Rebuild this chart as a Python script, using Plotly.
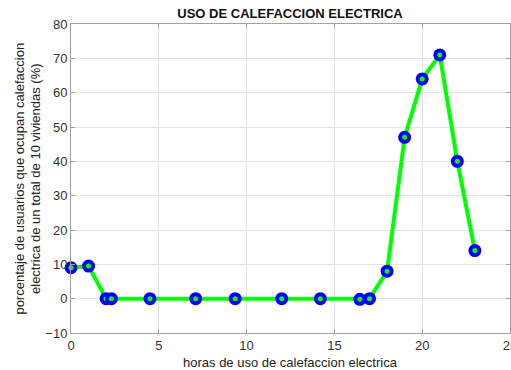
import plotly.graph_objects as go

horas = [0, 1, 2, 2.3, 4.5, 7.1, 9.35, 12, 14.2, 16.45, 17, 18, 19, 20, 21, 22, 23]
porcentaje = [9, 9.5, 0, 0, 0, 0, 0, 0, 0, -0.2, 0, 8, 47, 64, 71, 40, 14]

x_ticks = [0, 5, 10, 15, 20, 25]
y_ticks = [-10, 0, 10, 20, 30, 40, 50, 60, 70, 80]

titulo = "USO DE CALEFACCION ELECTRICA"
x_titulo = "horas de uso de calefaccion electrica"
y_titulo = "porcentaje de usuarios que ocupan calefaccion<br>electrica de un total de 10 viviendas (%)"

fig = go.Figure()
fig.add_trace(go.Scatter(
    x=horas, y=porcentaje, mode="lines+markers",
    line=dict(color="#00ff00", width=4),
    marker=dict(symbol="circle", size=9, color="#00ff00",
                line=dict(color="#0000ff", width=4)),
    showlegend=False, cliponaxis=False,
))

axis_common = dict(
    showgrid=True, gridcolor="#e3e3e3", gridwidth=1, automargin=False,
    zeroline=False, showline=True, linecolor="#a0a0a0", linewidth=1,
    mirror="ticks", ticks="inside", ticklen=4, tickcolor="#a0a0a0",
    ticklabeloverflow="allow",
    tickfont=dict(family="Liberation Sans, Arial", size=13, color="#333333"),
)

fig.update_layout(
    width=511, height=370,
    margin=dict(l=71, r=1, t=24, b=37),
    paper_bgcolor="white", plot_bgcolor="white",
    font=dict(family="Liberation Sans, Arial", size=13, color="#222222"),
    title=dict(text="<b>" + titulo + "</b>", x=0.5675, xanchor="center",
               y=1 - 13 / 370, yanchor="middle",
               font=dict(size=13, color="#111111")),
    xaxis=dict(range=[0, 25], tickvals=x_ticks, **axis_common),
    yaxis=dict(range=[-10, 80], tickvals=y_ticks, **axis_common),
)

fig.add_annotation(
    text=y_titulo, xref="paper", yref="paper", x=-0.1, y=0.5,
    xanchor="center", yanchor="middle", textangle=-90, showarrow=False,
    font=dict(size=13, color="#222222"),
)
fig.add_annotation(
    text=x_titulo, xref="paper", yref="paper", x=0.5, y=-0.094,
    xanchor="center", yanchor="middle", showarrow=False,
    font=dict(size=13, color="#222222"),
)

fig.write_html("out.html", config={"displayModeBar": False},
               post_script="document.body.style.margin='0px';document.body.style.overflow='hidden';")
